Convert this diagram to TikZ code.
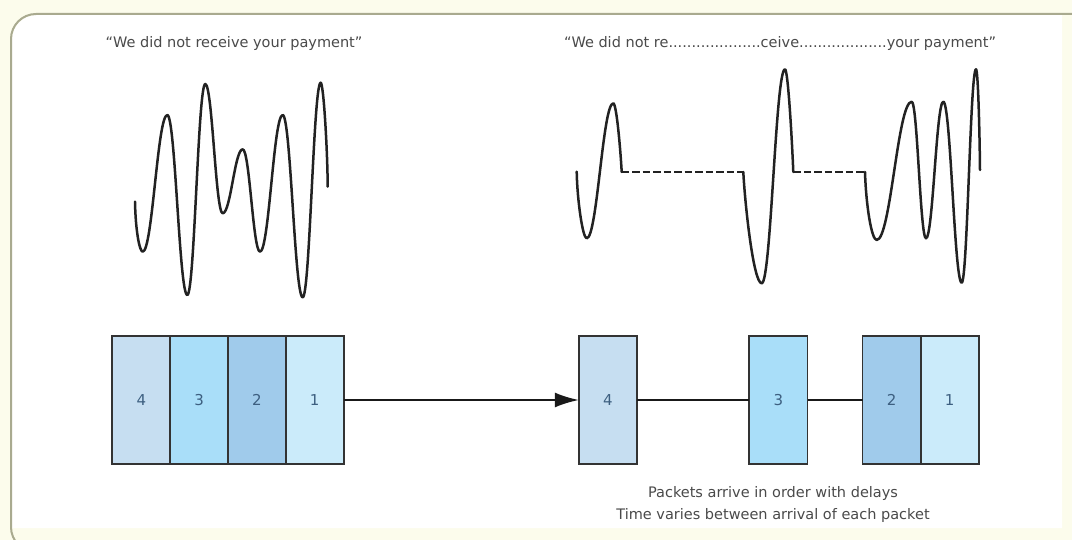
\documentclass[tikz,border=0pt]{standalone}
\usepackage{fontspec}
\setmainfont{DejaVu Sans}
\usetikzlibrary{arrows.meta}
\definecolor{pagecream}{HTML}{FCFCEC}
\definecolor{bordercol}{HTML}{A9AA8F}
\definecolor{txtgray}{HTML}{4A4A4A}
\definecolor{numcol}{HTML}{3D5F80}
\definecolor{pkA}{HTML}{C6DEF1}
\definecolor{pkB}{HTML}{A9DEF9}
\definecolor{pkC}{HTML}{A0CBEB}
\definecolor{pkD}{HTML}{CBEBFA}
\definecolor{wavecol}{HTML}{222222}
\begin{document}
\begin{tikzpicture}[x=1pt,y=-1pt,
  packet/.style={inner sep=0pt,
     minimum width=57.75pt, minimum height=128pt,
     font=\fontsize{15}{15}\selectfont, text=numcol},
  outline/.style={draw=black!80, line width=1.7pt},
  wave/.style={draw=wavecol, line width=2.5pt, line join=round, line cap=round},
  gap/.style={draw=wavecol, line width=2.5pt, dash pattern=on 7.5pt off 3pt},
  caption/.style={font=\fontsize{14.5}{22}\selectfont, text=txtgray, align=center, inner sep=0pt},
  link/.style={draw=black!90, line width=2pt},
  sendarrow/.style={link, -{Latex[length=24pt,width=15pt]}}]
\useasboundingbox (0,0) rectangle (1072,540);
\fill[pagecream] (0,0) rectangle (1072,540);
\fill[white] (12,528) [rounded corners=25pt] -- (12,15) [sharp corners] -- (1062,15) -- (1062,528) -- cycle;
\draw[bordercol, line width=2pt] (40,552) [rounded corners=25pt] -- (11,552) -- (11,14) [sharp corners] -- (1072,14);

% captions
\node[caption] (t1) at (234,44) {“We did not receive your payment”};
\node[caption] (t2) at (780,44) {“We did not re....................ceive...................your payment”};
\node[caption] (t3) at (773,504) {Packets arrive in order with delays\\Time varies between arrival of each packet};

% left wave
\draw[wave] (135,201.7)
  .. controls (135.5,230) and (139.5,251.7) .. (142.7,251.7)
  .. controls (152.5,251.7) and (157.5,115) .. (167.3,115)
  .. controls (175.3,115) and (179.3,295) .. (187.3,295)
  .. controls (194.5,295) and (198.1,84) .. (205.3,84)
  .. controls (212.3,84) and (215.7,213.3) .. (222.7,213.3)
  .. controls (230.7,213.3) and (234.7,149.3) .. (242.7,149.3)
  .. controls (249.6,149.3) and (253.1,251.7) .. (260,251.7)
  .. controls (269.1,251.7) and (273.6,115) .. (282.7,115)
  .. controls (290.7,115) and (294.7,297.3) .. (302.7,297.3)
  .. controls (309.9,297.3) and (313.5,82.7) .. (320.7,82.7)
  .. controls (323.5,82.7) and (327.5,150) .. (327.7,186.7);

% right wave
\draw[wave] (576.7,171.7)
  .. controls (577.2,200) and (582.7,238.3) .. (586.7,238.3)
  .. controls (597.3,238.3) and (602.7,103.3) .. (613.3,103.3)
  .. controls (616.5,103.3) and (620.5,150) .. (621.7,172);
\draw[gap] (621.7,172) -- (743.3,172);
\draw[wave] (743.3,172)
  .. controls (745,205) and (753.5,283.3) .. (761.7,283.3)
  .. controls (771.1,283.3) and (775.6,69.3) .. (785,69.3)
  .. controls (788,69.3) and (792,140) .. (793.3,172);
\draw[gap] (793.3,172) -- (865,172);
\draw[wave] (865,172)
  .. controls (866,205) and (871.5,240) .. (876.7,240)
  .. controls (890.7,240) and (897.7,101.7) .. (911.7,101.7)
  .. controls (917.4,101.7) and (920.3,238.3) .. (926,238.3)
  .. controls (932.9,238.3) and (936.4,101.7) .. (943.3,101.7)
  .. controls (950.7,101.7) and (954.4,282.7) .. (961.7,282.7)
  .. controls (967.4,282.7) and (970.3,69.3) .. (976,69.3)
  .. controls (978,69.3) and (979.6,130) .. (980,170);

% sent packets
\node[packet, fill=pkA] (b4) at (141.4,400) {4};
\node[packet, fill=pkB] (b3) at (199.1,400) {3};
\node[packet, fill=pkC] (b2) at (256.9,400) {2};
\node[packet, fill=pkD] (b1) at (314.6,400) {1};

% received packets
\node[packet, fill=pkA, minimum width=58pt] (r4) at (608,400) {4};
\node[packet, fill=pkB, minimum width=58pt] (r3) at (778.3,400) {3};
\node[packet, fill=pkC, minimum width=58pt] (r2) at (891.7,400) {2};
\node[packet, fill=pkD, minimum width=58pt] (r1) at (949.7,400) {1};

% packet outlines drawn over the fills
\foreach \n in {b4,b3,b2,b1,r4,r3,r2,r1}
  \draw[outline] (\n.north west) rectangle (\n.south east);

\draw[sendarrow] (b1.east) -- (r4.west);
\draw[link] (r4.east) -- (r3.west);
\draw[link] (r3.east) -- (r2.west);
\end{tikzpicture}
\end{document}
